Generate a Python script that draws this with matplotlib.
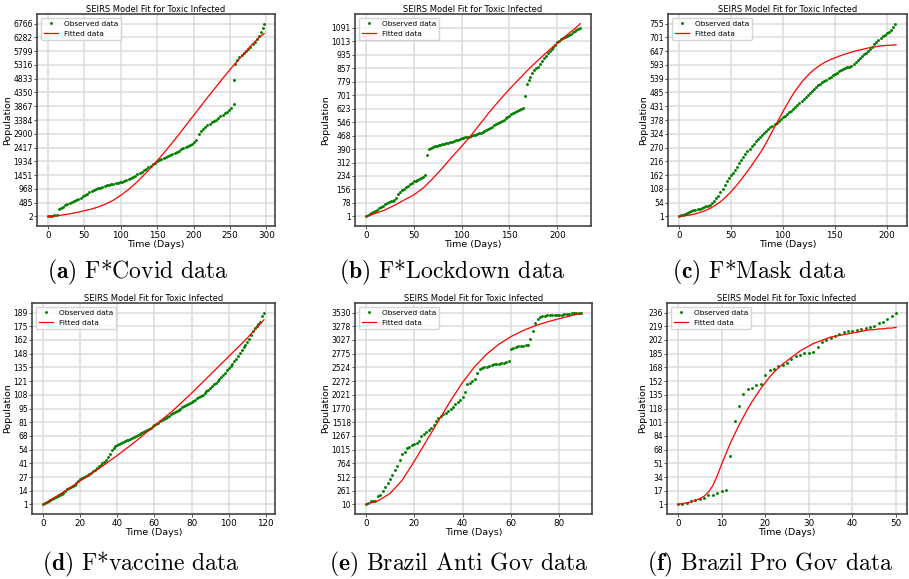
import numpy as np
import matplotlib
matplotlib.use('Agg')
import matplotlib.pyplot as plt
from matplotlib.ticker import MultipleLocator, FormatStrFormatter

plt.rcParams['mathtext.fontset'] = 'cm'

# (a) F*Covid data
days_a = list(range(0, 256, 3)) + [256, 257] + list(range(260, 297, 3)) + [297]
obs_a = [2, 15, 28, 40, 55, 270, 310, 345, 410, 450, 480, 510, 540, 580, 620, 660, 710, 760, 800, 840,
         880, 920, 960, 990, 1010, 1040, 1070, 1090, 1110, 1130, 1150, 1165, 1185, 1200, 1225, 1250, 1280,
         1320, 1360, 1400, 1430, 1475, 1520, 1570, 1620, 1680, 1730, 1780, 1830, 1890, 1950, 1985, 2020,
         2060, 2100, 2130, 2160, 2200, 2235, 2270, 2310, 2350, 2390, 2430, 2470, 2510, 2550, 2600, 2680,
         2900, 3000, 3080, 3140, 3200, 3250, 3300, 3350, 3400, 3450, 3510, 3570, 3620, 3670, 3720, 3790,
         3940,
         4790, 5350,
         5500, 5580, 5650, 5730, 5800, 5880, 5960, 6040, 6130, 6230, 6340, 6460, 6620,
         6766]
fit_days_a = list(range(0, 300, 10)) + [297]
fit_a = [2, 20, 50, 90, 140, 200, 260, 340, 440, 570, 740, 930, 1150, 1400, 1670, 1950, 2250, 2560,
         2880, 3210, 3540, 3870, 4200, 4520, 4840, 5150, 5450, 5740, 6020, 6280, 6420]

# (b) F*Lockdown data
days_b = list(range(0, 225, 2))
obs_b = [1, 6, 12, 18, 25, 32, 40, 47, 55, 63, 71, 78, 83, 88, 92, 98, 110, 128, 142, 152, 162, 170,
         178, 186, 195, 203, 208, 214, 219, 224, 230, 240, 355, 392, 398, 404, 407, 410, 413, 416, 419,
         422, 425, 428, 430, 433, 436, 440, 444, 448, 452, 455, 458, 461, 463, 466, 470, 474, 478, 482,
         485, 490, 496, 503, 509, 514, 520, 527, 534, 540, 547, 554, 561, 568, 576, 584, 591, 598, 605,
         611, 617, 622, 628, 700, 765, 790, 810, 830, 845, 858, 868, 884, 900, 915, 930, 946, 958, 970,
         982, 995, 1008, 1018, 1026, 1032, 1038, 1043, 1050, 1058, 1066, 1073, 1080, 1086, 1091]
fit_days_b = list(range(0, 230, 10)) + [224]
fit_b = [1, 18, 38, 65, 95, 125, 165, 220, 280, 345, 405, 470, 540, 610, 675, 737, 795, 852, 905,
         955, 1004, 1050, 1095, 1116]

# (c) F*Mask data
days_c = list(range(0, 210, 2))
obs_c = [1, 5, 8, 11, 15, 18, 21, 24, 27, 29, 31, 34, 37, 40, 43, 47, 53, 62, 72, 82, 95, 110, 124,
         140, 152, 162, 172, 184, 196, 208, 220, 232, 244, 255, 265, 277, 285, 295, 304, 312, 320, 328,
         336, 344, 350, 355, 361, 368, 375, 382, 389, 395, 402, 409, 415, 422, 430, 437, 444, 451, 459,
         467, 476, 485, 492, 500, 507, 514, 520, 525, 530, 536, 542, 548, 553, 558, 563, 568, 573, 577,
         581, 584, 587, 590, 598, 606, 613, 620, 627, 635, 642, 649, 656, 665, 675, 684, 692, 700, 706,
         712, 717, 722, 730, 742, 755]
fit_days_c = list(range(0, 210, 5)) + [209]
fit_c = [1, 3, 6, 10, 16, 23, 32, 44, 58, 76, 97, 120, 145, 172, 200, 230, 260, 296, 335, 372,
         410, 446, 480, 509, 535, 557, 575, 590, 603, 613, 621, 629, 636, 642, 648, 653, 658, 662,
         665, 668, 670, 671, 672]

# (d) F*vaccine data
days_d = list(range(0, 120))
obs_d = [1, 2, 3, 4, 5, 6, 7, 8, 9, 10, 11, 12, 14, 16, 17, 18, 19, 20, 22, 24, 26, 27, 28, 29, 30,
         31, 32, 34, 35, 37, 39, 40, 42, 43, 45, 47, 50, 54, 56, 58, 59, 60, 61, 62, 63, 64, 64, 65, 66,
         67, 68, 69, 70, 71, 72, 73, 74, 75, 76, 78, 79, 80, 81, 83, 84, 85, 86, 87, 88, 90, 91, 92, 93,
         94, 95, 96, 97, 98, 99, 100, 101, 102, 103, 105, 106, 107, 108, 110, 112, 113, 115, 117, 119,
         120, 122, 124, 126, 128, 130, 133, 135, 137, 139, 142, 144, 146, 149, 152, 155, 157, 160, 163,
         167, 171, 174, 176, 178, 180, 186, 189]
fit_days_d = list(range(0, 120, 10)) + [119]
fit_d = [1, 12, 24, 36, 49, 63, 78, 93, 110, 128, 146, 164, 182]

# (e) Brazil Anti Gov data
days_e = list(range(0, 90))
obs_e = [10, 40, 65, 75, 80, 160, 190, 255, 335, 408, 470, 543, 634, 714, 824, 928, 977, 1050, 1070,
         1093, 1112, 1142, 1173, 1265, 1295, 1338, 1368, 1417, 1460, 1540, 1601, 1632, 1662, 1693, 1724,
         1754, 1803, 1846, 1889, 1926, 1987, 2073, 2213, 2244, 2274, 2317, 2415, 2488, 2506, 2525, 2537,
         2550, 2568, 2580, 2586, 2590, 2598, 2605, 2617, 2641, 2855, 2873, 2898, 2910, 2916, 2922, 2928,
         2934, 3039, 3192, 3346, 3407, 3450, 3468, 3475, 3481, 3484, 3486, 3488, 3490, 3492, 3494, 3497,
         3500, 3512, 3520, 3524, 3527, 3529, 3530]
fit_days_e = list(range(0, 90, 5)) + [89]
fit_e = [10, 75, 210, 450, 800, 1170, 1540, 1910, 2250, 2540, 2770, 2950, 3090, 3200, 3290, 3360,
         3420, 3475, 3515]

# (f) Brazil Pro Gov data
days_f = list(range(0, 51))
obs_f = [1, 2, 3, 5, 6, 8, 9, 12, 13, 15, 17, 19, 60, 103, 122, 136, 142, 144, 147, 149, 160, 166,
         167, 170, 172, 174, 179, 183, 184, 186, 187, 188, 194, 200, 203, 205, 207, 210, 212, 213, 214,
         215, 216, 217, 218, 220, 223, 225, 228, 232, 236]
fit_days_f = list(range(0, 51))
fit_f = [1, 2, 3, 4, 6, 8, 11, 16, 24, 36, 50, 63, 76, 87, 98, 108, 118, 127, 135, 143, 150, 157, 163,
         168, 173, 177, 181, 185, 189, 192, 195, 198, 200, 202, 204, 206, 207, 208, 209, 210, 211, 212,
         213, 214, 215, 215, 216, 216, 217, 217, 218]

captions = [r'$\mathbf{(a)}$ F*Covid data', r'$\mathbf{(b)}$ F*Lockdown data',
            r'$\mathbf{(c)}$ F*Mask data', r'$\mathbf{(d)}$ F*vaccine data',
            r'$\mathbf{(e)}$ Brazil Anti Gov data', r'$\mathbf{(f)}$ Brazil Pro Gov data']

W, H = 909, 579
fig = plt.figure(figsize=(W / 100, H / 100), dpi=100)


def place(l, r, t, b):
    return fig.add_axes([l / W, 1 - b / H, (r - l) / W, (b - t) / H])


def panel(ax, x, y, fx, fy, xstep):
    ax.plot(x, y, 'o', color='green', ms=2.1, mew=0, label='Observed data')
    ax.plot(fx, fy, '-', color='red', lw=0.9, label='Fitted data')
    ax.set_yticks(np.linspace(min(y), max(y), 15))
    ax.yaxis.set_major_formatter(FormatStrFormatter('%d'))
    ax.xaxis.set_major_locator(MultipleLocator(xstep))
    ax.tick_params(axis='y', labelsize=5.5, length=2, width=0.6, pad=1, color='#333333')
    ax.tick_params(axis='x', labelsize=6.3, length=2, width=0.6, pad=1.5, color='#333333')
    ax.grid(color='#dddddd', lw=1.1)
    ax.set_axisbelow(True)
    for s in ax.spines.values():
        s.set_color('#444444')
        s.set_linewidth(1.2)
    ax.set_title('SEIRS Model Fit for Toxic Infected', fontsize=6, pad=1.5)
    ax.set_xlabel('Time (Days)', fontsize=6.8, labelpad=0)
    ax.set_ylabel('Population', fontsize=6.8, labelpad=1)
    ax.legend(loc='upper left', fontsize=5.3, borderaxespad=0.5)


panel(place(37, 275, 14, 226), days_a, obs_a, fit_days_a, fit_a, 50)
panel(place(355, 591, 14, 226), days_b, obs_b, fit_days_b, fit_b, 50)
panel(place(668, 907, 14, 226), days_c, obs_c, fit_days_c, fit_c, 50)
panel(place(32, 275, 303, 514), days_d, obs_d, fit_days_d, fit_d, 20)
panel(place(355, 592, 303, 514), days_e, obs_e, fit_days_e, fit_e, 20)
panel(place(667, 907, 303, 514), days_f, obs_f, fit_days_f, fit_f, 10)

cap_xy = [(138, 272), (452, 272), (759, 272), (141, 564), (459, 564), (770, 564)]
for (cx, cy), txt in zip(cap_xy, captions):
    fig.text(cx / W, 1 - cy / H, txt, ha='center', va='center', fontsize=17, family='cmr10')

fig.savefig('out.png', dpi=100)
